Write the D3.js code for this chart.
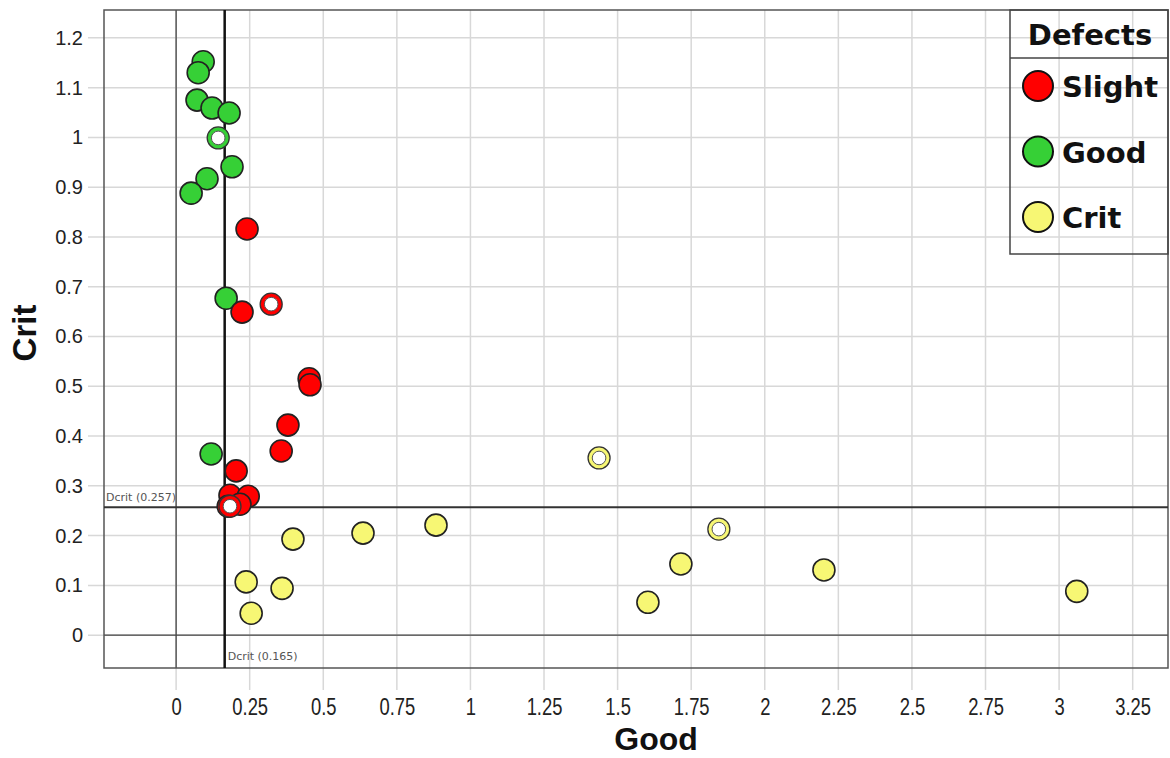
<!DOCTYPE html>
<html>
<head>
<meta charset="utf-8">
<script src="https://cdn.jsdelivr.net/npm/d3@7"></script>
<style>
  body { margin: 0; background: #fff; }
  text { font-family: "Liberation Sans", Arial, sans-serif; }
</style>
</head>
<body>
<svg id="chart" width="1170" height="758"></svg>
<script>
// data
var categories = ["Slight", "Good", "Crit"];
var colors = ["#ff0000", "#36d036", "#f7f774"];

var slightPts = [[0.241, 0.816], [0.224, 0.649], [0.452, 0.515], [0.455, 0.503], [0.380, 0.422],
                 [0.357, 0.370], [0.204, 0.330], [0.183, 0.281], [0.245, 0.279], [0.217, 0.263], [0.177, 0.259]];
var slightHollow = [[0.323, 0.665], [0.183, 0.259]];

var goodPts = [[0.092, 1.152], [0.075, 1.130], [0.071, 1.075], [0.122, 1.059], [0.180, 1.049],
               [0.190, 0.941], [0.105, 0.917], [0.051, 0.888], [0.170, 0.677], [0.119, 0.364]];
var goodHollow = [[0.143, 0.999]];

var critPts = [[0.883, 0.221], [0.635, 0.205], [0.397, 0.193], [0.238, 0.107], [0.360, 0.094],
               [0.255, 0.044], [1.715, 0.143], [1.603, 0.066], [2.201, 0.131], [3.060, 0.088]];
var critHollow = [[1.437, 0.356], [1.844, 0.213]];

var xTicks = [0, 0.25, 0.5, 0.75, 1, 1.25, 1.5, 1.75, 2, 2.25, 2.5, 2.75, 3, 3.25];
var yTicks = [0, 0.1, 0.2, 0.3, 0.4, 0.5, 0.6, 0.7, 0.8, 0.9, 1, 1.1, 1.2];
var dcritX = 0.165, dcritY = 0.257;

var svg = d3.select("#chart");
var pLeft = 104, pRight = 1168, pTop = 10, pBottom = 668;

var x = d3.scaleLinear().domain([-0.245, 3.37]).range([pLeft, pRight]);
var y = d3.scaleLinear().domain([-0.066, 1.256]).range([pBottom, pTop]);

//grid
svg.append("g").selectAll("line.gx").data(xTicks).enter().append("line")
   .attr("x1", function(d) { return x(d); }).attr("x2", function(d) { return x(d); })
   .attr("y1", pTop).attr("y2", pBottom + 22)
   .style("stroke", "#d8d8d8").style("stroke-width", 1.5);
svg.append("g").selectAll("line.gy").data(yTicks).enter().append("line")
   .attr("x1", pLeft - 16).attr("x2", pRight)
   .attr("y1", function(d) { return y(d); }).attr("y2", function(d) { return y(d); })
   .style("stroke", "#d8d8d8").style("stroke-width", 1.5);

// axes (labels only, lines are the grid)
var fmt = function(d) { return d3.format("~g")(d); };
var xAxis = svg.append("g").attr("transform", "translate(0," + (pBottom + 47) + ")")
   .call(d3.axisBottom(x).tickValues(xTicks).tickSize(0).tickFormat(fmt));
var yAxis = svg.append("g").attr("transform", "translate(" + (pLeft - 18) + ",0)")
   .call(d3.axisLeft(y).tickValues(yTicks).tickSize(0).tickFormat(fmt));
xAxis.select(".domain").remove();
yAxis.select(".domain").remove();
// x labels are tall and narrow in the original
xAxis.selectAll("text").attr("y", 0).attr("dy", 0).attr("transform", "scale(0.8,1)")
   .style("font-size", "23px").style("fill", "#222")
   .style("font-family", "'Liberation Sans', Arial, sans-serif");
yAxis.selectAll("text")
   .style("font-size", "20px").style("fill", "#222")
   .style("font-family", "'Liberation Sans', Arial, sans-serif");

// zero lines
svg.append("line").attr("x1", x(0)).attr("x2", x(0)).attr("y1", pTop).attr("y2", pBottom)
   .style("stroke", "#444").style("stroke-width", 1.3);
svg.append("line").attr("x1", pLeft).attr("x2", pRight).attr("y1", y(0)).attr("y2", y(0))
   .style("stroke", "#444").style("stroke-width", 1.3);

// frame
svg.append("rect").attr("x", pLeft).attr("y", pTop).attr("width", pRight - pLeft).attr("height", pBottom - pTop)
   .style("fill", "none").style("stroke", "#555").style("stroke-width", 1.5);

// Dcrit lines
svg.append("line").attr("x1", x(dcritX)).attr("x2", x(dcritX)).attr("y1", pTop).attr("y2", pBottom)
   .style("stroke", "#111").style("stroke-width", 2.5);
svg.append("line").attr("x1", pLeft).attr("x2", pRight).attr("y1", y(dcritY)).attr("y2", y(dcritY))
   .style("stroke", "#333").style("stroke-width", 2);
svg.append("text").attr("x", pLeft + 2).attr("y", y(dcritY) - 6).text("Dcrit (" + dcritY + ")")
   .style("font-size", "11px").style("fill", "#555").style("font-family", "'DejaVu Sans', sans-serif");
svg.append("text").attr("x", x(dcritX) + 3).attr("y", pBottom - 8).text("Dcrit (" + dcritX + ")")
   .style("font-size", "11px").style("fill", "#555").style("font-family", "'DejaVu Sans', sans-serif");

// points
var series = [
  { pts: goodPts, hollow: goodHollow, color: colors[1] },
  { pts: slightPts, hollow: slightHollow, color: colors[0] },
  { pts: critPts, hollow: critHollow, color: colors[2] }
];
series.forEach(function(s) {
  var g = svg.append("g");
  g.selectAll("circle.pt").data(s.pts).enter().append("circle").attr("class", "pt")
   .attr("cx", function(d) { return x(d[0]); }).attr("cy", function(d) { return y(d[1]); })
   .attr("r", 11).style("fill", s.color).style("stroke", "#222").style("stroke-width", 1.6);
  var h = g.selectAll("g.hollow").data(s.hollow).enter().append("g").attr("class", "hollow")
   .attr("transform", function(d) { return "translate(" + x(d[0]) + "," + y(d[1]) + ")"; });
  h.append("circle").attr("r", 11).style("fill", s.color).style("stroke", "#333").style("stroke-width", 1.3);
  h.append("circle").attr("r", 6.8).style("fill", "#fff").style("stroke", "#555").style("stroke-width", 1);
});

// legend
var lx = 1010, ly = 10, lw = 158, lh = 244;
var legendFont = "'DejaVu Sans', Verdana, sans-serif";
var legend = svg.append("g");
legend.append("rect").attr("x", lx).attr("y", ly).attr("width", lw).attr("height", lh)
   .style("fill", "none").style("stroke", "#444").style("stroke-width", 1.5);
legend.append("line").attr("x1", lx).attr("x2", lx + lw).attr("y1", 58).attr("y2", 58)
   .style("stroke", "#444").style("stroke-width", 1.5);
legend.append("text").attr("x", lx + lw / 2 + 1).attr("y", 45).attr("text-anchor", "middle").text("Defects")
   .style("font-size", "29px").style("font-weight", "bold").style("fill", "#111").style("font-family", legendFont);
var items = legend.selectAll("g.item").data(categories).enter().append("g").attr("class", "item")
   .attr("transform", function(d, i) { return "translate(" + (lx + 28) + "," + (86 + i * 65.5) + ")"; });
items.append("circle").attr("r", 15).style("fill", function(d, i) { return colors[i]; })
   .style("stroke", "#111").style("stroke-width", 2);
items.append("text").attr("x", 24).attr("y", 11).text(function(d) { return d; })
   .style("font-size", "29px").style("font-weight", "bold").style("fill", "#111").style("font-family", legendFont);

// axis titles
svg.append("text").attr("x", 656).attr("y", 750).attr("text-anchor", "middle").text("Good")
   .style("font-size", "32px").style("font-weight", "bold").style("fill", "#111");
svg.append("text").attr("transform", "translate(36,333) rotate(-90)").attr("text-anchor", "middle").text("Crit")
   .style("font-size", "33px").style("font-weight", "bold").style("fill", "#111");
</script>
</body>
</html>
